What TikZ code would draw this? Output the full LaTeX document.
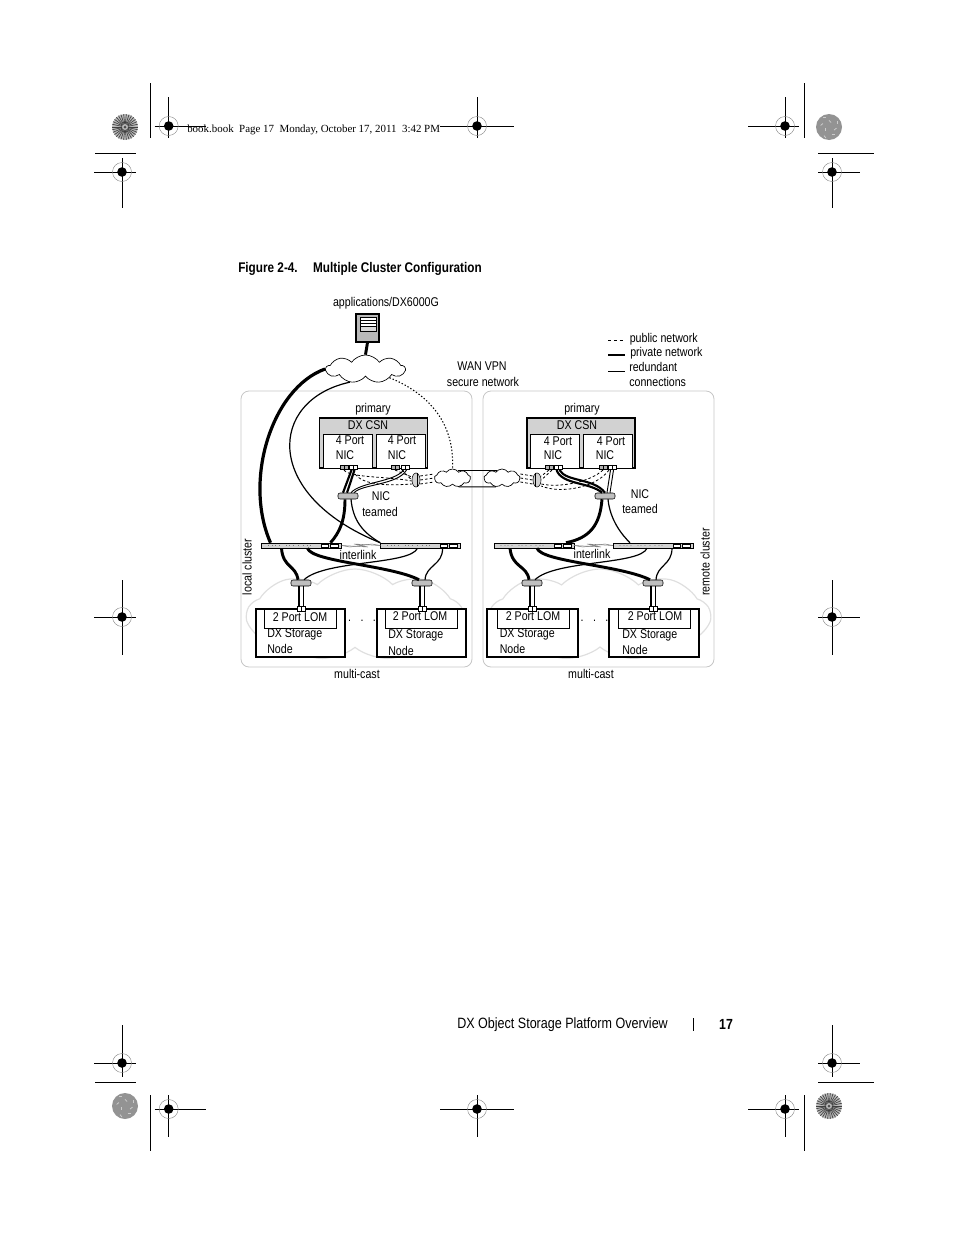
\documentclass[tikz,border=0pt]{standalone}
\usepackage{fontspec}
\usepackage{xcolor}
\usepackage{tikz}
\usetikzlibrary{shapes.symbols,shapes.geometric}
\newfontfamily\lblfont{Liberation Sans}[FakeStretch=0.84]
\newfontfamily\hdrfont{Liberation Serif}
\def\px{0.75pt}
\tikzset{
  lbl/.style={font=\lblfont\fontsize{9.5}{11}\selectfont,inner sep=0pt},
  lbll/.style={lbl,anchor=west},
  pnl/.style={draw=gray!45,line width=0.6pt,rounded corners=8*\px},
  box/.style={draw,line width=1.1pt,fill=white,inner sep=0pt},
  csn/.style={box,fill=gray!35,minimum width=108*\px,minimum height=50*\px},
  nicb/.style={draw,line width=0.5pt,fill=white,inner sep=0pt,minimum width=49*\px,minimum height=34*\px},
  stor/.style={box,minimum width=89*\px,minimum height=48*\px},
  lomb/.style={draw,line width=0.6pt,fill=white,inner sep=0pt,minimum width=72*\px,minimum height=19*\px},
  swt/.style={draw,line width=0.4pt,fill=gray!35,inner sep=0pt,minimum width=80*\px,minimum height=5*\px},
  team/.style={draw,line width=0.4pt,fill=gray!50,rounded corners=1.5pt,inner sep=0pt,minimum width=20*\px,minimum height=6*\px},
  wand/.style={draw,line width=0.4pt,fill=gray!35,ellipse,inner sep=0pt,minimum width=8*\px,minimum height=14*\px},
  prt/.style={draw,line width=0.4pt,inner sep=0pt,minimum width=8*\px,minimum height=4.5*\px},
  cld/.style={cloud,cloud puffs=9,cloud puff arc=110,cloud ignores aspect,draw,fill=white,line width=0.5pt,inner sep=0pt},
  bgc/.style={cloud,cloud puffs=9,cloud puff arc=90,cloud ignores aspect,draw=gray!25,line width=0.9pt,inner sep=0pt},
  prv/.style={line width=2.2pt},
  red/.style={line width=0.7pt},
  pub/.style={dashed,dash pattern=on 2pt off 1.6pt,line width=0.6pt},
  dott/.style={line width=0.8pt,dash pattern=on 1pt off 1.5pt},
  ilk/.style={line width=0.4pt,gray}
}
\newcommand{\regmark}[6]{
  \draw[line width=0.6pt] (#1-#3,#2) -- (#1+#4,#2) (#1,#2-#5) -- (#1,#2+#6);
  \draw[gray,line width=0.3pt] (#1,#2) circle (9.5*\px);
  \fill (#1,#2) circle (4.8*\px);
}
\newcommand{\stardisk}[2]{
  \fill[gray!55] (#1,#2) circle (13*\px);
  \foreach \a in {0,12,...,348}
    \draw[line width=0.5pt,black!75] (#1,#2) ++(\a:3*\px) -- ++(\a:10*\px);
  \fill[black!70] (#1,#2) circle (1.5*\px);
}
\newcommand{\grdisk}[2]{
  \fill[gray!85] (#1,#2) circle (13*\px);
  \foreach \a/\r in {20/9,65/5,110/10,150/7,200/4,240/10,290/8,330/6}
    \draw[line width=0.6pt,white!60!gray] (#1,#2) ++(\a:\r*\px) -- ++(\a+70:3*\px);
}
\newcommand{\swdots}[2]{
  \foreach \d in {-33,-29,-26,-22,-15,-12,-8,-3,2,6,9}
    \fill[black!70] (#1+\d,#2) circle (0.35pt);
  \draw[fill=white,line width=0.3pt] (#1+20,#2-1.5) rectangle (#1+27,#2+1.5);
  \draw[fill=white,line width=0.3pt] (#1+29,#2-1.5) rectangle (#1+37,#2+1.5);
}
\newcommand{\prtnode}[4]{
  \node[prt,fill=#4] (#1) at (#2,#3) {};
  \draw[line width=0.4pt] (#1.north) -- (#1.south);
}
\begin{document}
\begin{tikzpicture}[x=\px,y=-\px]
\useasboundingbox (0,0) rectangle (954,1235);
\regmark{168.7}{126}{14}{37}{29}{12}
\regmark{477}{126}{37}{37}{29}{12}
\regmark{785}{126}{37}{14}{29}{12}
\regmark{122}{172}{28}{14}{14}{36}
\regmark{832}{172}{14}{28}{14}{36}
\regmark{122}{617}{28}{14}{37}{38}
\regmark{832}{617}{14}{28}{37}{38}
\regmark{122}{1063}{28}{14}{38}{14}
\regmark{832}{1063}{14}{28}{38}{14}
\regmark{168.7}{1109}{14}{37}{14}{28}
\regmark{477}{1109}{37}{37}{14}{28}
\regmark{785}{1109}{37}{14}{14}{28}
\stardisk{125}{127}
\grdisk{829}{127}
\grdisk{125}{1106}
\stardisk{829}{1106}
\draw[line width=0.6pt] (150,83) -- (150,138) (804,83) -- (804,138) (95,153) -- (136,153) (818,153) -- (874,153);
\draw[line width=0.6pt] (150,1095) -- (150,1151) (804,1095) -- (804,1151) (95,1082) -- (136,1082) (818,1082) -- (874,1082);
\node[anchor=west,inner sep=0pt,font=\hdrfont\fontsize{8.2}{10}\selectfont] (hdr) at (187,130) {book.book\ \ Page 17\ \ Monday, October 17, 2011\ \ 3:42 PM};
\node[lbll,font=\lblfont\bfseries\fontsize{10.5}{12}\selectfont] (figttl) at (238,269) {Figure 2-4.\hspace{1.1em}Multiple Cluster Configuration};

\node[bgc,minimum width=216*\px,minimum height=92*\px] (mcl) at (355,615) {};
\node[bgc,minimum width=220*\px,minimum height=92*\px] (mcr) at (600,615) {};
\draw[pnl] (241,391) rectangle (472,667);
\draw[pnl] (483,391) rectangle (714,667);

\node[lbl] (apps) at (386,303.5) {applications/DX6000G};
\node[draw,line width=0.8pt,fill=gray!55,inner sep=0pt,minimum width=23*\px,minimum height=28*\px] (srv) at (367.5,328) {};
\fill[white] (360,317) rectangle (376,330);
\fill[gray!30] (360,327) rectangle (376,331);
\draw[line width=0.5pt] (360,317) rectangle (376,331) (360,320.5) -- (376,320.5) (360,323.5) -- (376,323.5) (360,326.5) -- (376,326.5);
\node[cld,minimum width=79*\px,minimum height=28*\px] (cldtop) at (365.5,369) {};
\node[cld,minimum width=36*\px,minimum height=18*\px] (wanl) at (452.5,478) {};
\node[cld,minimum width=36*\px,minimum height=18*\px] (wanr) at (502,478) {};
\draw[red] (wanl.55) -- (wanr.125);
\draw[red] (wanl.-55) -- (wanr.-125);
\draw[dott] (cldtop.-20) .. controls (425,392) and (455,420) .. (wanl.north);

\node[csn] (csnl) at (373.5,443) {};
\node[csn] (csnr) at (581,443) {};
\node[nicb] (nicla) at (347.5,451) {};
\node[nicb] (niclb) at (401,451) {};
\node[nicb] (nicra) at (555,451) {};
\node[nicb] (nicrb) at (607.5,451) {};
\prtnode{plaa}{344}{467.5}{gray!60}
\prtnode{plab}{353}{467.5}{white}
\prtnode{plba}{395}{467.5}{gray!60}
\prtnode{plbb}{405}{467.5}{white}
\prtnode{praa}{549}{467.5}{gray!60}
\prtnode{prab}{558}{467.5}{white}
\prtnode{prba}{603}{467.5}{gray!60}
\prtnode{prbb}{612}{467.5}{white}

\node[swt] (swla) at (301.5,545.5) {};
\node[swt] (swlb) at (420.5,545.5) {};
\node[swt] (swra) at (534,545.5) {};
\node[swt] (swrb) at (653,545.5) {};
\swdots{301.5}{545.5}
\swdots{420.5}{545.5}
\swdots{534}{545.5}
\swdots{653}{545.5}
\node[team] (tml) at (348,496) {};
\node[team] (tmr) at (605,496) {};
\node[team] (tmla) at (301,583) {};
\node[team] (tmlb) at (422,583) {};
\node[team] (tmra) at (532,583) {};
\node[team] (tmrb) at (653,583) {};
\node[wand] (devl) at (416,480) {};
\node[wand] (devr) at (537,480) {};
\draw[line width=0.3pt] ([xshift=1.5*\px]devl.north) -- ([xshift=1.5*\px]devl.south);
\draw[line width=0.3pt] ([xshift=-1.5*\px]devr.north) -- ([xshift=-1.5*\px]devr.south);

\draw[prv] (srv.south) -- (cldtop.north);
\draw[prv,line width=2.4pt] (cldtop.west) .. controls (272,388) and (243,480) .. ([xshift=-31*\px]swla.north);
\draw[red,line width=0.9pt] (cldtop.-140) .. controls (268,400) and (262,495) .. (swlb.north west);
\draw[prv,line width=1.6pt] ([xshift=-1.5*\px]plab.south) -- ([xshift=-5*\px]tml.north);
\draw[prv,line width=1.6pt] ([xshift=1.5*\px]plab.south) -- ([xshift=-1*\px]tml.north);
\draw[red] ([xshift=-1.5*\px]plbb.south) .. controls (395,482) and (360,482) .. ([xshift=3*\px]tml.north);
\draw[red] ([xshift=1.5*\px]plbb.south) .. controls (398,485) and (362,484) .. ([xshift=6*\px]tml.north);
\draw[pub] (plaa.south) .. controls (350,478) and (385,476) .. ([yshift=-1*\px]devl.west);
\draw[pub] (plab.south) .. controls (358,485) and (385,486) .. ([yshift=-4*\px]devl.west);
\draw[pub] (plba.south) -- ([yshift=3*\px]devl.west);
\draw[pub] ([xshift=-3*\px]plbb.south) -- (devl.west);
\draw[pub] ([yshift=-4*\px]devl.east) -- ([yshift=-4*\px]wanl.west);
\draw[pub] (devl.east) -- (wanl.west);
\draw[pub] ([yshift=4*\px]devl.east) -- ([yshift=4*\px]wanl.west);
\draw[pub] ([yshift=-4*\px]wanr.east) -- ([yshift=-4*\px]devr.west);
\draw[pub] (wanr.east) -- (devr.west);
\draw[pub] ([yshift=4*\px]wanr.east) -- ([yshift=4*\px]devr.west);
\draw[prv] ([xshift=-3*\px]tml.south) .. controls (345,520) and (340,532) .. ([xshift=29*\px]swla.north);
\draw[red,line width=0.9pt] ([xshift=3*\px]tml.south) .. controls (353,520) and (362,532) .. (swlb.north west);
\draw[ilk] (swla.east) -- (350,547) -- (372,544) -- (swlb.west);
\draw[ilk] (swla.east) -- (368,547) -- (354,544) -- (swlb.west);

\draw[prv,line width=1.6pt] ([xshift=-1.5*\px]prab.south) .. controls (562,485) and (590,482) .. ([xshift=-3*\px]tmr.north);
\draw[prv,line width=1.6pt] ([xshift=1.5*\px]prab.south) .. controls (566,482) and (594,478) .. ([xshift=0*\px]tmr.north);
\draw[red] ([xshift=-1.5*\px]prbb.south) -- ([xshift=2*\px]tmr.north);
\draw[red] ([xshift=1.5*\px]prbb.south) -- ([xshift=5*\px]tmr.north);
\draw[pub] (praa.south) -- ([yshift=4*\px]devr.east);
\draw[pub] ([xshift=3*\px]praa.south) -- (devr.east);
\draw[pub] (prba.south) .. controls (590,482) and (560,488) .. ([yshift=-4*\px]devr.east);
\draw[pub] ([xshift=-3*\px]prbb.south) .. controls (596,488) and (560,494) .. ([yshift=-6*\px]devr.east);
\draw[prv] ([xshift=-3*\px]tmr.south) .. controls (600,525) and (590,538) .. ([xshift=32*\px]swra.north);
\draw[red,line width=0.9pt] ([xshift=3*\px]tmr.south) .. controls (610,520) and (622,535) .. ([xshift=-23*\px]swrb.north);
\draw[ilk] (swra.east) -- (583,547) -- (605,544) -- (swrb.west);
\draw[ilk] (swra.east) -- (601,547) -- (587,544) -- (swrb.west);

\draw[prv] ([xshift=-20*\px]swla.south) .. controls (283,568) and (296,565) .. ([xshift=-3*\px]tmla.north);
\draw[prv] ([xshift=6*\px]swla.south) .. controls (312,562) and (390,565) .. ([xshift=-3*\px]tmlb.north);
\draw[red,line width=0.9pt] ([xshift=-3*\px]swlb.south) .. controls (410,565) and (325,560) .. ([xshift=3*\px]tmla.north);
\draw[red,line width=0.9pt] ([xshift=22*\px]swlb.south) .. controls (443,565) and (426,565) .. ([xshift=3*\px]tmlb.north);
\draw[prv] ([xshift=-24*\px]swra.south) .. controls (512,568) and (527,565) .. ([xshift=-3*\px]tmra.north);
\draw[prv] ([xshift=3*\px]swra.south) .. controls (542,562) and (620,565) .. ([xshift=-3*\px]tmrb.north);
\draw[red,line width=0.9pt] ([xshift=-6*\px]swrb.south) .. controls (640,565) and (555,560) .. ([xshift=3*\px]tmra.north);
\draw[red,line width=0.9pt] ([xshift=19*\px]swrb.south) .. controls (672,565) and (657,565) .. ([xshift=3*\px]tmrb.north);

\node[stor] (stla) at (300.5,633) {};
\node[stor] (stlb) at (421.5,633) {};
\node[stor,minimum width=91*\px] (stra) at (532.5,633) {};
\node[stor,minimum width=90*\px] (strb) at (654,633) {};
\node[lomb] (lomla) at (300.5,618.5) {};
\node[lomb] (lomlb) at (421.5,618.5) {};
\node[lomb] (lomra) at (533,618.5) {};
\node[lomb] (lomrb) at (654.5,618.5) {};
\prtnode{pstla}{301}{609}{white}
\prtnode{pstlb}{422}{609}{white}
\prtnode{pstra}{532}{609}{white}
\prtnode{pstrb}{653}{609}{white}
\foreach \t/\n in {tmla/pstla,tmlb/pstlb,tmra/pstra,tmrb/pstrb}{
  \draw[prv,line width=1.8pt] ([xshift=-2*\px]\t.south) -- ([xshift=-2*\px]\n.north);
  \draw[red] ([xshift=2*\px]\t.south) -- ([xshift=2*\px]\n.north);
}

\node[lbl] (lbwan) at (482,366) {WAN VPN};
\node[lbl] (lbsec) at (483,382) {secure network};
\coordinate (lgpa) at (608,340);
\coordinate (lgpb) at (625,340);
\coordinate (lgqa) at (608,355);
\coordinate (lgqb) at (625,355);
\coordinate (lgra) at (608,371);
\coordinate (lgrb) at (625,371);
\draw[line width=0.6pt,dash pattern=on 2.2pt off 2.2pt] (lgpa) -- (lgpb);
\draw[prv,line width=1.5pt] (lgqa) -- (lgqb);
\draw[line width=0.5pt] (lgra) -- (lgrb);
\node[lbll] (lbpub) at (629.5,339) {public network};
\node[lbll] (lbprv) at (630,353) {private network};
\node[lbll] (lbred) at (629,367) {redundant};
\node[lbll] (lbcon) at (629,382) {connections};
\node[lbl] (lbpl) at (373,409) {primary};
\node[lbl] (lbpr) at (582,409) {primary};
\node[lbl] (lbcl) at (368,425) {DX CSN};
\node[lbl] (lbcr) at (577,425) {DX CSN};
\node[lbl] (lb4a) at (350,440) {4 Port};
\node[lbl] (lb4b) at (402,440) {4 Port};
\node[lbl] (lb4c) at (558,441) {4 Port};
\node[lbl] (lb4d) at (611,441) {4 Port};
\node[lbl] (lbna) at (345,455) {NIC};
\node[lbl] (lbnb) at (397,455) {NIC};
\node[lbl] (lbnc) at (553,455) {NIC};
\node[lbl] (lbnd) at (605,455) {NIC};
\node[lbl] (lbtn) at (381,496) {NIC};
\node[lbl] (lbtt) at (380,512) {teamed};
\node[lbl] (lbrn) at (640,494) {NIC};
\node[lbl] (lbrt) at (640,509) {teamed};
\node[lbl] (lbil) at (358,555) {interlink};
\node[lbl] (lbir) at (592,554) {interlink};
\node[lbl,rotate=90] (lblc) at (247,567) {local cluster};
\node[lbl,rotate=90] (lbrc) at (705,562) {remote cluster};
\node[lbl] (lblma) at (300,617) {2 Port LOM};
\node[lbl] (lblmb) at (420,616) {2 Port LOM};
\node[lbl] (lblmc) at (533,616) {2 Port LOM};
\node[lbl] (lblmd) at (655,616) {2 Port LOM};
\node[lbll] (lbsa) at (267,634) {DX Storage};
\node[lbll] (lbsb) at (267,649) {Node};
\node[lbll] (lbsc) at (388,635) {DX Storage};
\node[lbll] (lbsd) at (388,651) {Node};
\node[lbll] (lbse) at (499.5,634) {DX Storage};
\node[lbll] (lbsf) at (499.5,649) {Node};
\node[lbll] (lbsg) at (622,635) {DX Storage};
\node[lbll] (lbsh) at (622,650) {Node};
\node[lbl] (lbda) at (362,621) {.\hspace{0.75em}.\hspace{0.75em}.};
\node[lbl] (lbdb) at (594.5,621) {.\hspace{0.75em}.\hspace{0.75em}.};
\node[lbl] (lbma) at (357,674) {multi-cast};
\node[lbl] (lbmb) at (591,674) {multi-cast};
\node[lbll,font=\lblfont\fontsize{11.2}{13}\selectfont] (ftr) at (457,1025) {DX Object Storage Platform Overview};
\draw[line width=0.5pt] (693,1018) -- (693,1031);
\node[lbl,font=\lblfont\bfseries\fontsize{11}{13}\selectfont] (pgno) at (726,1024) {17};
\end{tikzpicture}
\end{document}
